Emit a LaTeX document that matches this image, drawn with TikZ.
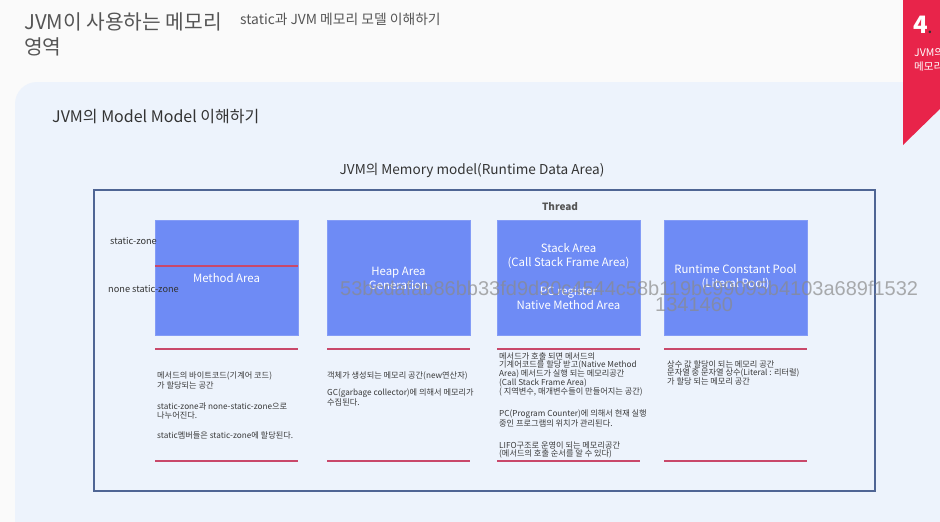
\documentclass[tikz,border=0pt]{standalone}
\usepackage{fontspec}
\setmainfont{Noto Sans CJK KR}
\newfontfamily\wmfont{Liberation Sans}
\definecolor{pagebg}{HTML}{FAFAFA}
\definecolor{panelbg}{HTML}{EDF3FC}
\definecolor{boxblue}{HTML}{6E8BF5}
\definecolor{redline}{HTML}{C9486A}
\definecolor{framec}{HTML}{4F6594}
\definecolor{ribbon}{HTML}{E8244A}
\definecolor{titlec}{HTML}{555555}
\definecolor{textc}{HTML}{333333}
\definecolor{descc}{HTML}{3A3A3A}
\definecolor{wmc}{HTML}{8A8A8A}
\tikzset{
  area/.style={fill=boxblue, draw=boxblue!85!white, line width=0.6pt},
  boxtext/.style={text=white, font=\fontsize{11.4}{14}\selectfont, align=center, inner sep=0pt},
  desc/.style={text=descc, font=\fontsize{8.2}{9}\selectfont, anchor=west, inner sep=0pt},
  redsep/.style={draw=redline, line width=1.4pt},
  zonelbl/.style={text=textc, font=\fontsize{9.2}{10}\selectfont, anchor=west, inner sep=0pt},
  wm/.style={text=wmc, text opacity=0.7, font=\wmfont\fontsize{20}{22}\selectfont, anchor=west, inner sep=0pt}
}
\begin{document}
\begin{tikzpicture}[x=1pt,y=-1pt]
\useasboundingbox (0,0) rectangle (940,522);
\clip (0,0) rectangle (940,522);
\fill[pagebg] (0,0) rectangle (940,522);
\fill[panelbg, rounded corners=22pt] (15,82) rectangle (990,580);
% ribbon
\fill[ribbon] (903,0) -- (945,0) -- (945,104) -- (903,145) -- cycle;
\node[anchor=west, inner sep=0pt, text=white, font=\bfseries\fontsize{24}{26}\selectfont] (rnum) at (913,25) {4\textcolor{textc}{\fontsize{12}{12}\selectfont.}};
\node[anchor=west, inner sep=0pt, text=white, font=\fontsize{10.5}{12}\selectfont] (rt1) at (914,53) {JVM의};
\node[anchor=west, inner sep=0pt, text=white, font=\fontsize{10.5}{12}\selectfont] (rt2) at (914,67) {메모리};
% titles
\node[anchor=west, inner sep=0pt, text=titlec, font=\fontsize{20.3}{22}\selectfont] (t1) at (24,22) {JVM이 사용하는 메모리};
\node[anchor=west, inner sep=0pt, text=titlec, font=\fontsize{20.3}{22}\selectfont] (t2) at (24,47) {영역};
\node[anchor=west, inner sep=0pt, text=titlec, font=\fontsize{13.8}{15}\selectfont] (st) at (240,19) {static과 JVM 메모리 모델 이해하기};
\node[anchor=west, inner sep=0pt, text=textc, font=\fontsize{16}{18}\selectfont] (h1) at (52,117) {JVM의 Model Model 이해하기};
\node[inner sep=0pt, text=textc, font=\fontsize{13.6}{15}\selectfont] (h2) at (472,170) {JVM의 Memory model(Runtime Data Area)};
% frame
\draw[framec, line width=1.2pt] (94,190) rectangle (875,491);
\node[inner sep=0pt, text=titlec, font=\bfseries\fontsize{10}{11}\selectfont] (thr) at (560,207) {Thread};
% areas
\draw[area] (155,220) rectangle (298,335);
\draw[redline, line width=1.2pt] (155,266) -- (298,266);
\draw[area] (327,220) rectangle (470,335);
\draw[area] (497,220) rectangle (640,335);
\draw[area] (664,220) rectangle (807,335);
\node[boxtext] (ma) at (226.5,278) {Method Area};
\node[boxtext] (ha) at (398.5,278.5) {Heap Area\\Generation};
\node[boxtext] (sa) at (568.5,256) {Stack Area\\(Call Stack Frame Area)};
\node[boxtext] (pc) at (568.5,298.5) {PC register\\Native Method Area};
\node[boxtext] (rc) at (735.5,277.5) {Runtime Constant Pool\\(Literal Pool)};
\node[zonelbl] (sz) at (110,241) {static-zone};
\node[zonelbl] (nsz) at (108,289) {none static-zone};
% separators
\draw[redsep] (155,349) -- (298,349);
\draw[redsep] (327,349) -- (470,349);
\draw[redsep] (497,349) -- (640,349);
\draw[redsep] (664,349) -- (807,349);
\draw[redsep] (155,461) -- (298,461);
\draw[redsep] (327,461) -- (470,461);
\draw[redsep] (497,461) -- (640,461);
\draw[redsep] (664,461) -- (807,461);
% column 1
\node[desc] (c1a) at (157,376) {메서드의 바이트코드(기계어 코드)};
\node[desc] (c1b) at (157,385) {가 할당되는 공간};
\node[desc] (c1c) at (157,406) {static-zone과 none-static-zone으로};
\node[desc] (c1d) at (157,415) {나누어진다.};
\node[desc] (c1e) at (157,435) {static멤버들은 static-zone에 할당된다.};
% column 2
\node[desc] (c2a) at (327,376) {객체가 생성되는 메모리 공간(new연산자)};
\node[desc] (c2b) at (327,393) {GC(garbage collector)에 의해서 메모리가};
\node[desc] (c2c) at (327,402) {수집된다.};
% column 3
\node[desc] (c3a) at (499,356) {메서드가 호출 되면 메서드의};
\node[desc] (c3b) at (499,365) {기계어코드를 할당 받고(Native Method};
\node[desc] (c3c) at (499,374) {Area) 메서드가 실행 되는 메모리공간};
\node[desc] (c3d) at (499,383) {(Call Stack Frame Area)};
\node[desc] (c3e) at (499,392) {( 지역변수, 매개변수들이 만들어지는 공간)};
\node[desc] (c3f) at (499,414) {PC(Program Counter)에 의해서 현재 실행};
\node[desc] (c3g) at (499,423) {중인 프로그램의 위치가 관리된다.};
\node[desc] (c3h) at (499,445) {LIFO구조로 운영이 되는 메모리공간};
\node[desc] (c3i) at (499,454) {(메서드의 호출 순서를 알 수 있다)};
% column 4
\node[desc] (c4a) at (667,364) {상수 값 할당이 되는 메모리 공간};
\node[desc] (c4b) at (667,372.5) {문자열 중 문자열 상수(Literal : 리터럴)};
\node[desc] (c4c) at (667,381) {가 할당 되는 메모리 공간};
% watermark
\node[wm] (wm1) at (340,288) {53bcdafab86bb33fd9d30c4544c58b119bc99095b4103a689f1532};
\node[wm] (wm2) at (655,305) {1341460};
\end{tikzpicture}
\end{document}
